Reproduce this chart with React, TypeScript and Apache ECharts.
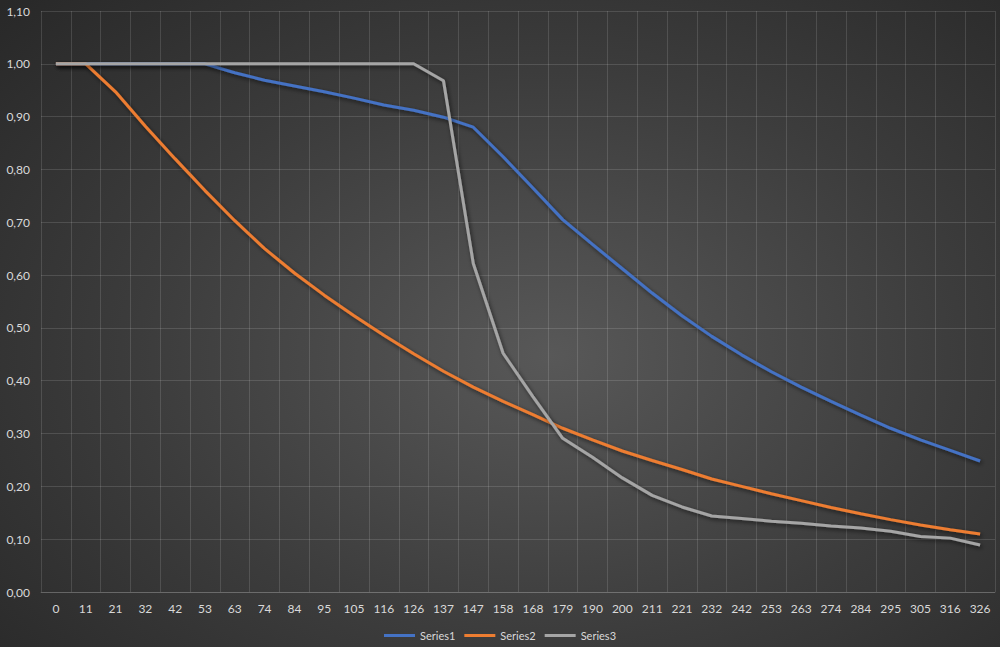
import React, { useEffect, useRef } from "react";
import * as echarts from "echarts";

const categories = ["0","11","21","32","42","53","63","74","84","95","105","116","126","137","147","158","168","179","190","200","211","221","232","242","253","263","274","284","295","305","316","326"];
const series1 = [1,1,1,1,1,1,0.983,0.969,0.958,0.947,0.935,0.922,0.912,0.899,0.88,0.824,0.765,0.705,0.658,0.612,0.566,0.523,0.484,0.449,0.417,0.388,0.361,0.335,0.31,0.288,0.268,0.248];
const series2 = [1,1,0.947,0.882,0.82,0.76,0.703,0.65,0.604,0.562,0.523,0.486,0.451,0.418,0.388,0.361,0.336,0.31,0.288,0.267,0.249,0.232,0.214,0.2,0.186,0.173,0.16,0.148,0.137,0.127,0.118,0.11];
const series3 = [1,1,1,1,1,1,1,1,1,1,1,1,1,0.968,0.622,0.452,0.37,0.291,0.255,0.216,0.183,0.161,0.144,0.139,0.134,0.13,0.125,0.121,0.115,0.105,0.102,0.089];
const seriesNames = ["Series1", "Series2", "Series3"];
const colors = ["#4472C4", "#ED7D31", "#A5A5A5"];

export default function App() {
  const ref = useRef<HTMLDivElement>(null);
  useEffect(() => {
    document.body.style.margin = "0";
    if (!ref.current) return;
    const chart = echarts.init(ref.current, undefined, { renderer: "svg" });
    const font = "Lato, 'Noto Sans', sans-serif";
    const lineSeries = [series1, series2, series3].map((data, i) => ({
      name: seriesNames[i],
      type: "line",
      data,
      symbol: "none",
      lineStyle: {
        width: 3,
        color: colors[i],
        shadowColor: "rgba(0,0,0,0.6)",
        shadowBlur: 4,
        shadowOffsetX: 1.5,
        shadowOffsetY: 2,
      },
      itemStyle: { color: colors[i] },
    }));
    chart.setOption({
      animation: false,
      backgroundColor: "transparent",
      color: colors,
      textStyle: { fontFamily: font },
      grid: { left: 41, right: 5, top: 11, bottom: 55, containLabel: false },
      legend: {
        data: seriesNames,
        bottom: 1,
        left: "center",
        icon: "rect",
        itemWidth: 31,
        itemHeight: 3,
        itemGap: 9,
        textStyle: { color: "#d9d9d9", fontSize: 11, fontFamily: font },
      },
      xAxis: {
        type: "category",
        data: categories,
        boundaryGap: true,
        axisLine: { show: true, lineStyle: { color: "rgba(255,255,255,0.15)", width: 1 } },
        axisTick: { show: false },
        axisLabel: { color: "#d9d9d9", fontSize: 12, margin: 10, interval: 0, fontFamily: font },
        splitLine: { show: true, lineStyle: { color: "rgba(255,255,255,0.13)", width: 1 } },
      },
      yAxis: {
        type: "value",
        min: 0,
        max: 1.1,
        interval: 0.1,
        axisLine: { show: false },
        axisTick: { show: false },
        axisLabel: {
          color: "#d9d9d9",
          fontSize: 12,
          margin: 11,
          fontFamily: font,
          formatter: (v: number) => v.toFixed(2).replace(".", ","),
        },
        splitLine: { show: true, lineStyle: { color: "rgba(255,255,255,0.13)", width: 1 } },
      },
      series: lineSeries,
    });
    return () => chart.dispose();
  }, []);
  return (
    <div
      ref={ref}
      style={{
        position: "absolute",
        left: 0,
        top: 0,
        width: 1000,
        height: 647,
        background: "radial-gradient(ellipse 75% 80% at 55% 55%, #585858 0%, #3c3c3c 55%, #282828 100%)",
      }}
    />
  );
}
